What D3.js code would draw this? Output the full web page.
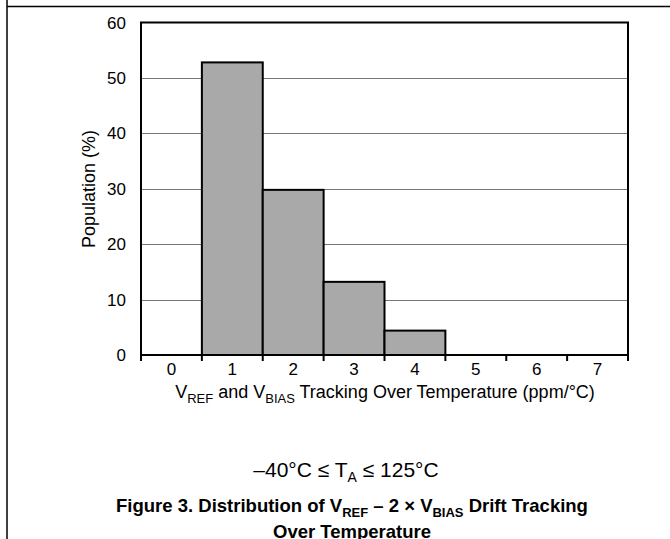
<!DOCTYPE html>
<html lang="en">
<head>
    <meta charset="UTF-8">
    <title>Drift Tracking Distribution</title>
    <script src="https://d3js.org/d3.v7.min.js"></script>
    <style>
        body { margin: 0; background: #fff; }
        text { font-family: "Liberation Sans", Arial, sans-serif; fill: #000; }
    </style>
</head>
<body>
    <svg width="670" height="539" id="chart"></svg>

    <script>
        // histogram bins (ppm/°C) and population share (%)
        var bins = ["0", "1", "2", "3", "4", "5", "6", "7"];
        var population = [0, 52.8, 29.8, 13.2, 4.4, 0, 0, 0];
        var yTicks = [0, 10, 20, 30, 40, 50, 60];

        var svg = d3.select("#chart");

        // page frame lines
        svg.append("line").attr("x1", 7).attr("x2", 7).attr("y1", 0).attr("y2", 539)
            .attr("stroke", "#000").attr("stroke-width", 1.5);
        svg.append("line").attr("x1", 7).attr("x2", 670).attr("y1", 6.5).attr("y2", 6.5)
            .attr("stroke", "#000").attr("stroke-width", 1.5);

        var plotLeft = 141, plotRight = 628, plotTop = 22.5, plotBottom = 355;

        var x = d3.scaleBand()
            .domain(bins)
            .range([plotLeft, plotRight])
            .padding(0);

        var y = d3.scaleLinear()
            .domain([0, 60])
            .range([plotBottom, plotTop]);

        // gridlines
        svg.append("g")
            .selectAll("line")
            .data(yTicks.filter(d => d > 0 && d < 60))
            .join("line")
            .attr("x1", plotLeft).attr("x2", plotRight)
            .attr("y1", d => Math.round(y(d)) + 0.5)
            .attr("y2", d => Math.round(y(d)) + 0.5)
            .attr("stroke", "#777")
            .attr("stroke-width", 1);

        // bars
        svg.append("g")
            .selectAll("rect")
            .data(population)
            .join("rect")
            .attr("x", (d, i) => x(bins[i]))
            .attr("y", d => y(d))
            .attr("width", x.bandwidth())
            .attr("height", d => plotBottom - y(d))
            .attr("fill", "#a9a9a9")
            .attr("stroke", d => d > 0 ? "#000" : "none")
            .attr("stroke-width", 2);

        // plot frame
        svg.append("rect")
            .attr("x", plotLeft).attr("y", plotTop)
            .attr("width", plotRight - plotLeft).attr("height", plotBottom - plotTop)
            .attr("fill", "none")
            .attr("stroke", "#000")
            .attr("stroke-width", 2);

        // x tick marks at bin boundaries
        svg.append("g")
            .selectAll("line")
            .data(d3.range(bins.length + 1))
            .join("line")
            .attr("x1", i => i < bins.length ? x(bins[i]) : plotRight)
            .attr("x2", i => i < bins.length ? x(bins[i]) : plotRight)
            .attr("y1", plotBottom)
            .attr("y2", plotBottom + 6)
            .attr("stroke", "#000")
            .attr("stroke-width", 2);

        // x tick labels
        svg.append("g")
            .attr("font-size", 17)
            .attr("text-anchor", "middle")
            .selectAll("text")
            .data(bins)
            .join("text")
            .attr("x", d => x(d) + x.bandwidth() / 2)
            .attr("y", 375)
            .text(d => d);

        // y tick labels
        svg.append("g")
            .attr("font-size", 17)
            .attr("text-anchor", "end")
            .selectAll("text")
            .data(yTicks)
            .join("text")
            .attr("x", 126)
            .attr("y", d => y(d) + 6)
            .text(d => d);

        // y axis title
        svg.append("text")
            .attr("transform", "translate(95,189) rotate(-90)")
            .attr("text-anchor", "middle")
            .attr("font-size", 18)
            .text("Population (%)");

        // x axis title
        var xt = svg.append("text")
            .attr("x", 385)
            .attr("y", 398)
            .attr("text-anchor", "middle")
            .attr("font-size", 18);
        xt.append("tspan").text("V");
        xt.append("tspan").attr("font-size", 13).attr("dy", 5).text("REF");
        xt.append("tspan").attr("dy", -5).text(" and V");
        xt.append("tspan").attr("font-size", 13).attr("dy", 5).text("BIAS");
        xt.append("tspan").attr("dy", -5).text(" Tracking Over Temperature (ppm/°C)");

        // condition
        var ct = svg.append("text")
            .attr("x", 346)
            .attr("y", 477)
            .attr("text-anchor", "middle")
            .attr("font-size", 21);
        ct.append("tspan").text("–40°C ≤ T");
        ct.append("tspan").attr("font-size", 14).attr("dy", 5).text("A");
        ct.append("tspan").attr("dy", -5).text(" ≤ 125°C");

        // caption
        var cap = svg.append("text")
            .attr("x", 352)
            .attr("y", 512)
            .attr("text-anchor", "middle")
            .attr("font-size", 18.5)
            .attr("font-weight", "bold");
        cap.append("tspan").text("Figure 3. Distribution of V");
        cap.append("tspan").attr("font-size", 13).attr("dy", 5).text("REF");
        cap.append("tspan").attr("dy", -5).text(" – 2 × V");
        cap.append("tspan").attr("font-size", 13).attr("dy", 5).text("BIAS");
        cap.append("tspan").attr("dy", -5).text(" Drift Tracking");

        svg.append("text")
            .attr("x", 352)
            .attr("y", 538)
            .attr("text-anchor", "middle")
            .attr("font-size", 18.5)
            .attr("font-weight", "bold")
            .text("Over Temperature");
    </script>
</body>
</html>
